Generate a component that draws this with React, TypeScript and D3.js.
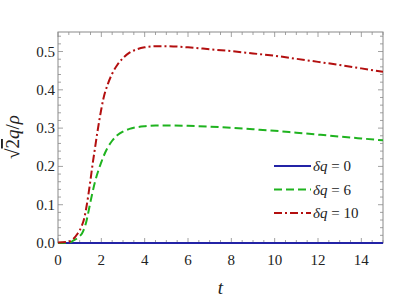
import React from "react";
import * as d3 from "d3";

const tValues = [0, 0.5, 0.7, 0.9, 1.0, 1.1, 1.2, 1.3, 1.4, 1.5, 1.6, 1.7, 1.8, 1.9, 2.0, 2.1, 2.3, 2.5, 2.75, 3.0, 3.3, 3.6, 4.0, 4.5, 5, 6, 7, 8, 9, 10, 11, 12, 13, 14, 15];
const seriesZero = tValues.map(() => 0);
const seriesSix = [0, 0.001, 0.006, 0.013, 0.018, 0.024, 0.036, 0.054, 0.08, 0.108, 0.134, 0.158, 0.178, 0.196, 0.211, 0.226, 0.25, 0.267, 0.282, 0.291, 0.298, 0.302, 0.305, 0.307, 0.307, 0.306, 0.304, 0.301, 0.297, 0.293, 0.288, 0.283, 0.278, 0.273, 0.268];
const seriesTen = [0.001, 0.004, 0.01, 0.024, 0.033, 0.045, 0.062, 0.09, 0.125, 0.165, 0.207, 0.245, 0.283, 0.318, 0.35, 0.378, 0.415, 0.442, 0.466, 0.483, 0.497, 0.505, 0.511, 0.514, 0.514, 0.511, 0.506, 0.501, 0.495, 0.489, 0.481, 0.473, 0.465, 0.456, 0.447];
const legendLabels = ["0", "6", "10"];
const xTicks = [0, 2, 4, 6, 8, 10, 12, 14];
const yTicks = [0.0, 0.1, 0.2, 0.3, 0.4, 0.5];

const W = 415, H = 303;
const M = { left: 58, right: 383, top: 32, bottom: 243 };
const FONT = "'Liberation Serif', 'Times New Roman', Times, 'DejaVu Serif', 'Noto Serif', serif";

export default function App() {
  const x = d3.scaleLinear().domain([0, 15]).range([M.left, M.right]);
  const y = d3.scaleLinear().domain([0, 0.551]).range([M.bottom, M.top]);
  const line = d3.line<[number, number]>().x(d => x(d[0])).y(d => y(d[1])).curve(d3.curveMonotoneX);
  const mk = (vals: number[]) => line(tValues.map((t, i) => [t, vals[i]] as [number, number])) || "";

  const styles = [
    { color: "#2323a6", dash: "none", vals: seriesZero },
    { color: "#1fb31f", dash: "8,4", vals: seriesSix },
    { color: "#b30f0f", dash: "8,3,2,3", vals: seriesTen },
  ];

  const xMinor = d3.range(0, 15.001, 0.5);
  const yMinor = d3.range(0, 0.5501, 0.02);
  const frame = "#8a8a8a";
  const ts = { fontFamily: FONT };

  return (
    <svg width={W} height={H} style={{ position: "absolute", left: 0, top: 0, background: "#fff" }}>
      <defs>
        <clipPath id="clip">
          <rect x={M.left} y={M.top - 2} width={M.right - M.left} height={M.bottom - M.top + 4} />
        </clipPath>
      </defs>
      {xMinor.map((v, i) => {
        const major = Math.abs(v / 2 - Math.round(v / 2)) < 1e-6;
        const len = major ? 5 : 3;
        return (
          <g key={"xm" + i} stroke={frame} strokeWidth={0.8}>
            <line x1={x(v)} x2={x(v)} y1={M.bottom} y2={M.bottom - len} />
            <line x1={x(v)} x2={x(v)} y1={M.top} y2={M.top + len} />
          </g>
        );
      })}
      {yMinor.map((v, i) => {
        const major = Math.abs(v * 10 - Math.round(v * 10)) < 1e-6;
        const len = major ? 5 : 3;
        return (
          <g key={"ym" + i} stroke={frame} strokeWidth={0.8}>
            <line x1={M.left} x2={M.left + len} y1={y(v)} y2={y(v)} />
            <line x1={M.right} x2={M.right - len} y1={y(v)} y2={y(v)} />
          </g>
        );
      })}
      <rect x={M.left} y={M.top} width={M.right - M.left} height={M.bottom - M.top} fill="none" stroke={frame} strokeWidth={1} />
      {xTicks.map(v => (
        <text key={"xt" + v} x={x(v)} y={265} textAnchor="middle" style={ts} fontSize={15} fill="#222">{v}</text>
      ))}
      {yTicks.map(v => (
        <text key={"yt" + v} x={M.left - 3} y={y(v) + 5} textAnchor="end" style={ts} fontSize={15} fill="#222">{v.toFixed(1)}</text>
      ))}
      <g clipPath="url(#clip)">
        {styles.map((s, i) => (
          <path key={"c" + i} d={mk(s.vals)} fill="none" stroke={s.color} strokeWidth={2} strokeDasharray={s.dash} />
        ))}
      </g>
      {styles.map((s, i) => {
        const ly = 166 + i * 23.5;
        return (
          <g key={"lg" + i}>
            <line x1={274} x2={311} y1={ly} y2={ly} stroke={s.color} strokeWidth={2} strokeDasharray={s.dash} />
            <text x={313} y={ly + 5} style={ts} fontSize={15} fill="#222">
              <tspan fontStyle="italic">δq</tspan>
              <tspan> = {legendLabels[i]}</tspan>
            </text>
          </g>
        );
      })}
      <text x={(M.left + M.right) / 2} y={294} textAnchor="middle" style={ts} fontSize={19} fontStyle="italic" fill="#222">t</text>
      <g transform="translate(19,137) rotate(-90)">
        <text x={0} y={0} textAnchor="middle" style={ts} fontSize={19} fill="#222">
          <tspan>√</tspan>
          <tspan style={{ textDecoration: "overline" }}>2</tspan>
          <tspan fontStyle="italic">q</tspan>
          <tspan>/</tspan>
          <tspan fontStyle="italic">ρ</tspan>
        </text>
      </g>
    </svg>
  );
}
